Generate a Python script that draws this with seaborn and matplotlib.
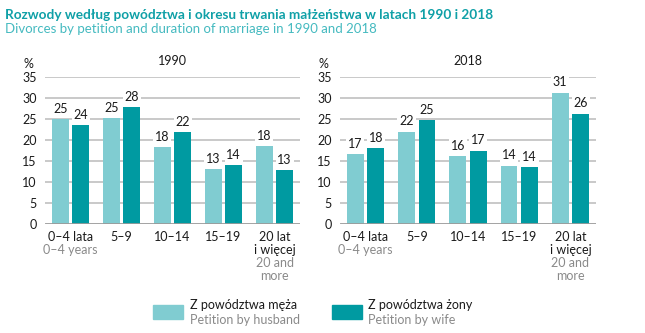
import matplotlib
matplotlib.use("Agg")
import matplotlib.pyplot as plt
import seaborn as sns
import pandas as pd
from matplotlib.patches import Rectangle
import matplotlib.transforms as mtransforms

# ---- data ----
categories_pl = ["0–4 lata", "5–9", "10–14", "15–19", "20 lat\ni więcej"]
categories_en = ["0–4 years", "", "", "", "20 and\nmore"]
series = ["Z powództwa męża", "Z powództwa żony"]
series_en = ["Petition by husband", "Petition by wife"]

husband_1990 = [25.0, 25.2, 18.4, 13.1, 18.5]
wife_1990 = [23.6, 27.8, 21.9, 14.1, 12.9]
husband_2018 = [16.7, 22.0, 16.1, 13.9, 31.3]
wife_2018 = [18.0, 24.8, 17.5, 13.5, 26.3]

labels_husband_1990 = ["25", "25", "18", "13", "18"]
labels_wife_1990 = ["24", "28", "22", "14", "13"]
labels_husband_2018 = ["17", "22", "16", "14", "31"]
labels_wife_2018 = ["18", "25", "17", "14", "26"]

yticks = [0, 5, 10, 15, 20, 25, 30, 35]

title_pl = "Rozwody według powództwa i okresu trwania małżeństwa w latach 1990 i 2018"
title_en = "Divorces by petition and duration of marriage in 1990 and 2018"

# ---- style ----
sns.set_theme(style="white")
plt.rcParams["font.family"] = ["Lato", "DejaVu Sans"]

c_h = "#80CCD1"
c_w = "#009AA1"
dark = "#1a1a1a"
gray = "#8a8a8a"
fs = 9

W, H = 645, 333
fig = plt.figure(figsize=(W / 100, H / 100), dpi=100)

def px_axes(x0, x1, ytop, ybot):
    return fig.add_axes([x0 / W, 1 - ybot / H, (x1 - x0) / W, (ybot - ytop) / H])

panels = [
    ("1990", husband_1990, wife_1990, labels_husband_1990, labels_wife_1990, 45, 300),
    ("2018", husband_2018, wife_2018, labels_husband_2018, labels_wife_2018, 340, 596),
]

for year, hv, wv, hl, wl, x0, x1 in panels:
    ax = px_axes(x0, x1, 77, 224)
    df = pd.DataFrame({
        "cat": categories_pl * 2,
        "val": hv + wv,
        "series": [series[0]] * 5 + [series[1]] * 5,
    })
    sns.barplot(data=df, x="cat", y="val", hue="series", order=categories_pl,
                hue_order=series, palette=[c_h, c_w], width=0.8, gap=0.18,
                saturation=1, ax=ax, legend=False, linewidth=0, zorder=3)
    ax.set_ylim(0, 35)
    ax.set_xlim(-0.5, 4.5)
    ax.set_yticks(yticks)
    ax.set_yticklabels([str(t) for t in yticks], fontsize=fs, color=dark)
    for t in yticks[1:]:
        ax.axhline(t, color="#c9c9c9", lw=1.4, zorder=1)
    ax.axhline(0, color="#9a9a9a", lw=2, zorder=4)
    for s in ax.spines.values():
        s.set_visible(False)
    ax.tick_params(axis="y", length=0, pad=6)
    ax.tick_params(axis="x", length=0)
    ax.set_xticks(range(5))
    ax.set_xticklabels([])
    ax.set_xlabel("")
    ax.set_ylabel("")

    # value labels
    for cont, labs in zip(ax.containers, [hl, wl]):
        for bar, lab in zip(cont, labs):
            xc = bar.get_x() + bar.get_width() / 2
            ax.annotate(lab, (xc, bar.get_height()), xytext=(0, 3),
                        textcoords="offset points", ha="center", va="bottom",
                        fontsize=fs, color=dark, zorder=5,
                        bbox=dict(boxstyle="square,pad=0.15", fc="white", ec="none"))

    # category labels
    trans = mtransforms.blended_transform_factory(ax.transData, ax.transAxes)
    for i, (pl, en) in enumerate(zip(categories_pl, categories_en)):
        ax.text(i, -0.05, pl, transform=trans, ha="center", va="top",
                fontsize=fs, color=dark, linespacing=1.1)
        nl = pl.count("\n") + 1
        if en:
            ax.text(i, -0.05 - nl * 0.088, en, transform=trans, ha="center", va="top",
                    fontsize=fs, color=gray, linespacing=1.1)

    ax.text(-0.045, 1.045, "%", transform=ax.transAxes, ha="right", va="bottom",
            fontsize=fs, color=dark)
    ax.text(0.5, 1.07, year, transform=ax.transAxes, ha="center", va="bottom",
            fontsize=fs, color=dark)

# titles
fig.text(5 / W, 1 - 15 / H, title_pl, fontsize=9.85, fontweight="bold",
         color="#0FA0A7", ha="left", va="center")
fig.text(5 / W, 1 - 29 / H, title_en, fontsize=9.5, color="#45BAC0",
         ha="left", va="center")

# legend
for (xp, xt), name, en, col in zip([(153, 190), (332, 368)], series, series_en, [c_h, c_w]):
    fig.patches.append(Rectangle((xp / W, 1 - 319 / H), 30 / W, 14 / H,
                                 transform=fig.transFigure, color=col))
    fig.text(xt / W, 1 - 305 / H, name, fontsize=fs, color=dark, ha="left", va="center")
    fig.text(xt / W, 1 - 320 / H, en, fontsize=fs, color=gray, ha="left", va="center")

fig.savefig("out.png", dpi=100)
